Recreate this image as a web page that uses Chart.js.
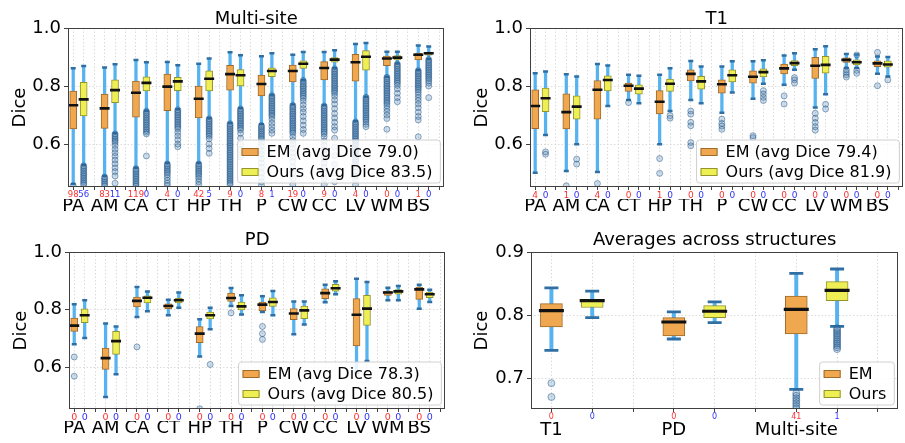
<!DOCTYPE html>
<html>
<head>
<meta charset="utf-8">
<script src="https://cdn.jsdelivr.net/npm/chart.js@4.4.0/dist/chart.umd.min.js"></script>
<style>
html, body { margin: 0; padding: 0; background: #fff; overflow: hidden; width: 905px; height: 443px; }
.panel { position: absolute; }
.panel canvas { display: block; }
</style>
</head>
<body>
<div class="panel" style="left:0px;top:0px"><canvas id="msChart" width="452" height="220"></canvas></div>
<div class="panel" style="left:460px;top:0px"><canvas id="t1Chart" width="451" height="220"></canvas></div>
<div class="panel" style="left:0px;top:222px"><canvas id="pdChart" width="453" height="220"></canvas></div>
<div class="panel" style="left:461px;top:222px"><canvas id="avgChart" width="453" height="220"></canvas></div>
<script>
'use strict';

// each box: [low whisker, q1, median, q3, high whisker]
const structures = ['PA', 'AM', 'CA', 'CT', 'HP', 'TH', 'P', 'CW', 'CC', 'LV', 'WM', 'BS'];

// ---- Multi-site
const msEM = [
    [0.462, 0.652, 0.734, 0.783, 0.861], [0.490, 0.654, 0.723, 0.772, 0.864],
    [0.518, 0.693, 0.777, 0.817, 0.890], [0.535, 0.715, 0.798, 0.841, 0.883],
    [0.535, 0.690, 0.756, 0.800, 0.877], [0.673, 0.786, 0.841, 0.871, 0.916],
    [0.668, 0.766, 0.807, 0.838, 0.903], [0.736, 0.814, 0.852, 0.872, 0.908],
    [0.734, 0.821, 0.862, 0.884, 0.917], [0.679, 0.817, 0.882, 0.909, 0.945],
    [0.832, 0.870, 0.895, 0.903, 0.918], [0.855, 0.890, 0.908, 0.913, 0.940]
];
const msOurs = [
    [0.528, 0.697, 0.754, 0.813, 0.869], [0.637, 0.743, 0.786, 0.821, 0.875],
    [0.715, 0.783, 0.811, 0.832, 0.882], [0.720, 0.784, 0.816, 0.830, 0.872],
    [0.689, 0.783, 0.825, 0.852, 0.895], [0.723, 0.800, 0.837, 0.857, 0.906],
    [0.769, 0.832, 0.852, 0.863, 0.913], [0.821, 0.861, 0.877, 0.887, 0.917],
    [0.861, 0.882, 0.891, 0.898, 0.923], [0.763, 0.855, 0.901, 0.922, 0.948],
    [0.878, 0.890, 0.898, 0.905, 0.918], [0.893, 0.906, 0.913, 0.917, 0.936]
];
const msEMOut = [
    [0.456],
    [0.486, 0.480, 0.474, 0.468, 0.462, 0.456],
    [0.515, 0.509, 0.503, 0.497, 0.491, 0.485, 0.479, 0.473, 0.467, 0.461, 0.455],
    [0.531, 0.525, 0.519, 0.513, 0.507, 0.501, 0.494, 0.485, 0.475, 0.465, 0.457],
    [0.531, 0.525, 0.519, 0.513, 0.507, 0.501, 0.495, 0.488, 0.480, 0.470, 0.460],
    [0.670, 0.664, 0.658, 0.652, 0.646, 0.640, 0.634, 0.628, 0.622, 0.616, 0.610, 0.604, 0.598, 0.592,
     0.586, 0.580, 0.574, 0.568, 0.562, 0.556, 0.550, 0.544, 0.538, 0.532, 0.526, 0.520, 0.514, 0.508,
     0.502, 0.496, 0.490, 0.484, 0.478, 0.472, 0.466, 0.460],
    [0.664, 0.658, 0.652, 0.646, 0.640, 0.634, 0.628, 0.622, 0.616, 0.605, 0.592, 0.578, 0.565, 0.550,
     0.535, 0.520, 0.500, 0.485, 0.470, 0.458],
    [0.733, 0.727, 0.721, 0.715, 0.709, 0.703, 0.697, 0.691, 0.685, 0.679, 0.673, 0.667, 0.661, 0.655,
     0.649, 0.643, 0.637, 0.625, 0.612, 0.600, 0.585, 0.570, 0.555, 0.540, 0.520, 0.500, 0.480, 0.460],
    [0.731, 0.725, 0.719, 0.713, 0.707, 0.701, 0.695, 0.689, 0.683, 0.677, 0.671, 0.665, 0.659, 0.653,
     0.647, 0.641, 0.635, 0.625, 0.610, 0.595, 0.580, 0.565, 0.550, 0.535, 0.520, 0.500, 0.480, 0.460],
    [0.676, 0.670, 0.664, 0.658, 0.652, 0.646, 0.640, 0.634, 0.628, 0.622, 0.616, 0.610, 0.604, 0.598,
     0.592, 0.586, 0.580, 0.574, 0.568, 0.562, 0.556, 0.550, 0.544, 0.538, 0.530, 0.520, 0.505, 0.490,
     0.475, 0.460],
    [0.830, 0.824, 0.818, 0.812, 0.806, 0.800, 0.794, 0.788, 0.782, 0.776, 0.770, 0.764, 0.758, 0.752,
     0.746, 0.740, 0.732, 0.722, 0.712, 0.700, 0.688, 0.651],
    [0.853, 0.847, 0.841, 0.835, 0.829, 0.823, 0.817, 0.811, 0.805, 0.799, 0.793, 0.787, 0.779, 0.770,
     0.760, 0.750, 0.738, 0.725, 0.710, 0.695, 0.683, 0.625]
];
const msOursOut = [
    [0.525, 0.519, 0.513, 0.507, 0.501, 0.495, 0.489, 0.483, 0.477, 0.471, 0.465, 0.459],
    [0.635, 0.629, 0.623, 0.617, 0.611, 0.605, 0.595, 0.582, 0.570, 0.558, 0.545, 0.532, 0.518, 0.505,
     0.490, 0.465],
    [0.713, 0.707, 0.701, 0.695, 0.689, 0.683, 0.677, 0.671, 0.665, 0.659, 0.653, 0.647, 0.641, 0.635, 0.559],
    [0.718, 0.712, 0.706, 0.700, 0.694, 0.688, 0.682, 0.676, 0.670, 0.664, 0.658, 0.652, 0.640, 0.628,
     0.615, 0.600, 0.591],
    [0.687, 0.681, 0.675, 0.669, 0.663, 0.657, 0.651, 0.645, 0.639, 0.633, 0.627, 0.618, 0.600, 0.585, 0.568],
    [0.721, 0.715, 0.709, 0.703, 0.697, 0.691, 0.685, 0.679, 0.673, 0.667, 0.661, 0.655, 0.649, 0.637,
     0.620, 0.600, 0.580, 0.556],
    [0.767, 0.761, 0.755, 0.749, 0.743, 0.737, 0.731, 0.725, 0.719, 0.713, 0.707, 0.701, 0.695, 0.685,
     0.672, 0.660, 0.648, 0.637],
    [0.819, 0.813, 0.807, 0.801, 0.795, 0.789, 0.783, 0.777, 0.771, 0.765, 0.758, 0.748, 0.735, 0.722,
     0.710, 0.695, 0.680, 0.665, 0.650, 0.637],
    [0.859, 0.853, 0.847, 0.841, 0.835, 0.829, 0.823, 0.817, 0.811, 0.805, 0.799, 0.793, 0.787, 0.781,
     0.775, 0.765, 0.752, 0.738, 0.722, 0.705, 0.690, 0.675, 0.660, 0.648, 0.620, 0.590, 0.560, 0.530,
     0.500, 0.470],
    [0.761, 0.755, 0.749, 0.743, 0.737, 0.731, 0.725, 0.719, 0.713, 0.707, 0.701, 0.695, 0.689, 0.683,
     0.676, 0.668, 0.660],
    [0.876, 0.870, 0.864, 0.858, 0.852, 0.846, 0.840, 0.834, 0.828, 0.822, 0.816, 0.810, 0.802, 0.790,
     0.775, 0.760, 0.746],
    [0.891, 0.885, 0.879, 0.873, 0.867, 0.861, 0.855, 0.849, 0.843, 0.837, 0.831, 0.825, 0.818, 0.810,
     0.800, 0.760]
];
const msEMHidden   = ['98', '83', '119', '4', '42', '9', '8', '19', '9', '4', '0', '1'];
const msOursHidden = ['56', '11', '0', '0', '5', '0', '1', '0', '0', '0', '0', '0'];

// ---- T1
const t1EM = [
    [0.501, 0.653, 0.731, 0.787, 0.844], [0.507, 0.652, 0.710, 0.773, 0.841],
    [0.504, 0.686, 0.787, 0.819, 0.876], [0.752, 0.781, 0.801, 0.810, 0.839],
    [0.599, 0.704, 0.746, 0.784, 0.839], [0.752, 0.818, 0.842, 0.856, 0.886],
    [0.708, 0.775, 0.806, 0.821, 0.867], [0.756, 0.810, 0.832, 0.852, 0.885],
    [0.804, 0.842, 0.861, 0.876, 0.905], [0.726, 0.826, 0.870, 0.899, 0.927],
    [0.862, 0.881, 0.890, 0.897, 0.910], [0.842, 0.867, 0.878, 0.887, 0.902]
];
const t1Ours = [
    [0.631, 0.712, 0.758, 0.793, 0.850], [0.599, 0.686, 0.729, 0.766, 0.833],
    [0.731, 0.783, 0.821, 0.835, 0.871], [0.741, 0.772, 0.791, 0.804, 0.835],
    [0.714, 0.781, 0.808, 0.824, 0.861], [0.741, 0.789, 0.816, 0.833, 0.867],
    [0.778, 0.814, 0.837, 0.856, 0.885], [0.808, 0.831, 0.848, 0.859, 0.889],
    [0.856, 0.870, 0.879, 0.888, 0.913], [0.772, 0.844, 0.873, 0.902, 0.937],
    [0.862, 0.873, 0.882, 0.890, 0.909], [0.833, 0.865, 0.874, 0.887, 0.900]
];
const t1EMOut = [
    [], [0.456], [0.464], [0.743], [0.550, 0.499],
    [0.714, 0.703, 0.675, 0.663, 0.605, 0.594], [0.686, 0.671, 0.662, 0.651], [0.629, 0.622],
    [0.766, 0.738], [0.706, 0.689, 0.674, 0.660, 0.648], [0.856, 0.847, 0.839, 0.831], [0.916, 0.801]
];
const t1OursOut = [
    [0.573, 0.565], [0.548, 0.531], [], [], [0.698, 0.689], [], [],
    [0.784, 0.773, 0.761, 0.750], [0.829, 0.821, 0.810], [0.737, 0.721], [0.907, 0.854, 0.844], [0.821]
];
const t1EMHidden   = ['4', '1', '4', '0', '1', '0', '0', '0', '0', '0', '0', '0'];
const t1OursHidden = ['0', '0', '0', '0', '0', '0', '0', '0', '0', '0', '0', '0'];

// ---- PD
const pdEM = [
    [0.679, 0.724, 0.744, 0.770, 0.818], [0.496, 0.592, 0.631, 0.666, 0.751],
    [0.774, 0.809, 0.830, 0.843, 0.878], [0.780, 0.803, 0.812, 0.820, 0.834],
    [0.637, 0.685, 0.716, 0.741, 0.766], [0.812, 0.828, 0.840, 0.857, 0.875],
    [0.791, 0.795, 0.817, 0.826, 0.846], [0.714, 0.765, 0.786, 0.803, 0.828],
    [0.825, 0.838, 0.857, 0.872, 0.886], [0.580, 0.673, 0.782, 0.838, 0.907],
    [0.832, 0.849, 0.859, 0.864, 0.876], [0.803, 0.835, 0.870, 0.878, 0.886]
];
const pdOurs = [
    [0.701, 0.754, 0.780, 0.802, 0.832], [0.575, 0.644, 0.690, 0.724, 0.741],
    [0.794, 0.823, 0.841, 0.848, 0.863], [0.806, 0.823, 0.832, 0.839, 0.859],
    [0.731, 0.767, 0.780, 0.791, 0.806], [0.783, 0.799, 0.811, 0.826, 0.850],
    [0.780, 0.811, 0.826, 0.841, 0.864], [0.748, 0.768, 0.797, 0.812, 0.828],
    [0.853, 0.864, 0.874, 0.888, 0.898], [0.621, 0.745, 0.803, 0.849, 0.896],
    [0.832, 0.853, 0.863, 0.869, 0.882], [0.826, 0.841, 0.853, 0.861, 0.869]
];
const pdEMOut = [[0.635, 0.568], [], [0.670], [], [0.455], [0.788], [0.741, 0.716, 0.696], [], [], [], [], []];
const pdOursOut = [[], [], [], [], [0.609], [], [], [], [], [], [], []];
const pdEMHidden   = ['0', '0', '0', '0', '0', '0', '0', '0', '0', '0', '0', '0'];
const pdOursHidden = ['0', '0', '0', '0', '0', '0', '0', '0', '0', '0', '0', '0'];

// ---- Averages across structures
const avgGroups = ['T1', 'PD', 'Multi-site'];
const avgEM   = [[0.744, 0.781, 0.807, 0.818, 0.843], [0.762, 0.767, 0.789, 0.796, 0.805], [0.682, 0.770, 0.809, 0.830, 0.866]];
const avgOurs = [[0.796, 0.812, 0.823, 0.825, 0.838], [0.788, 0.796, 0.806, 0.815, 0.821], [0.782, 0.823, 0.839, 0.853, 0.873]];
const avgEMOut   = [[0.692, 0.670], [], [0.676, 0.672, 0.668, 0.664, 0.660, 0.656, 0.652]];
const avgOursOut = [[], [], [0.779, 0.776, 0.773, 0.770, 0.767, 0.764, 0.761, 0.758, 0.755, 0.752, 0.749, 0.746]];
const avgEMHidden   = ['0', '0', '41'];
const avgOursHidden = ['0', '0', '1'];

// ---- styling
const FONT = "'DejaVu Sans', sans-serif";
Chart.defaults.font.family = FONT;
Chart.defaults.color = '#000';

const EM_FILL = '#efa850', EM_EDGE = '#9e6a2c';
const OURS_FILL = '#eeee55', OURS_EDGE = '#94942e';
const WHISKER = '#57b2f0', CAP = '#2f6fa3', MEDIAN = '#111111';
const FLIER_FILL = 'rgba(60, 120, 175, 0.26)', FLIER_EDGE = 'rgba(25, 75, 125, 0.45)';
const GRID = '#d2d2d2';
const RED = '#ff3030', BLUE = '#3030ff';

const SMALL = { box: 7, median: 10, medianW: 2.6, cap: 5, capW: 2.5, whisker: 2.6, flier: 3 };
const BIG   = { box: 22, median: 25, medianW: 3.2, cap: 14, capW: 2.8, whisker: 3.3, flier: 3.5 };

function boxSets(stats, outliers, pos, label, fill, edge, sz) {
    return [
        { type: 'bar', order: 50, grouped: false, clip: 0, barThickness: sz.whisker,
          data: stats.map((s, i) => ({ x: pos[i], y: [s[0], s[4]] })),
          backgroundColor: WHISKER, borderWidth: 0 },
        { type: 'bar', label: label, order: 40, grouped: false, barThickness: sz.box,
          data: stats.map((s, i) => ({ x: pos[i], y: [s[1], s[3]] })),
          backgroundColor: fill, borderColor: edge, borderWidth: 1, borderSkipped: false },
        { type: 'scatter', order: 30, clip: 0, pointStyle: 'line', pointRadius: sz.cap / 2,
          pointBorderWidth: sz.capW, pointBorderColor: CAP, pointHoverRadius: sz.cap / 2,
          data: stats.flatMap((s, i) => [{ x: pos[i], y: s[0] }, { x: pos[i], y: s[4] }]) },
        { type: 'scatter', order: 20, pointStyle: 'line', pointRadius: sz.median / 2,
          pointBorderWidth: sz.medianW, pointBorderColor: MEDIAN, pointHoverRadius: sz.median / 2,
          data: stats.map((s, i) => ({ x: pos[i], y: s[2] })) },
        { type: 'scatter', order: 10, clip: 0, pointStyle: 'circle', pointRadius: sz.flier,
          pointBackgroundColor: FLIER_FILL, pointBorderColor: FLIER_EDGE, pointBorderWidth: 1,
          data: outliers.flatMap((arr, i) => arr.map(v => ({ x: pos[i], y: v }))) }
    ];
}

// axes frame + matplotlib-like legend in the lower right corner
const frameLegend = {
    id: 'frameLegend',
    afterDraw(chart) {
        const { ctx, chartArea: a } = chart;
        ctx.save();
        ctx.strokeStyle = '#404040';
        ctx.lineWidth = 1;
        ctx.strokeRect(Math.round(a.left) + 0.5, Math.round(a.top) + 0.5,
                       Math.round(a.right - a.left) - 1, Math.round(a.bottom - a.top) - 1);

        const items = chart.data.datasets.filter(d => d.label);
        ctx.font = '16px ' + FONT;
        const tw = Math.max(...items.map(d => ctx.measureText(d.label).width));
        const w = 29 + tw + 8, h = 43;
        const x0 = a.right - 4 - w, y0 = a.bottom - 4 - h;
        ctx.beginPath();
        ctx.roundRect(x0, y0, w, h, 3);
        ctx.fillStyle = 'rgba(255,255,255,0.85)';
        ctx.fill();
        ctx.strokeStyle = '#d0d0d0';
        ctx.stroke();
        items.forEach((d, k) => {
            const cy = y0 + 12 + k * 20;
            ctx.fillStyle = d.backgroundColor;
            ctx.fillRect(x0 + 4, cy - 3.5, 17, 7);
            ctx.strokeStyle = d.borderColor;
            ctx.strokeRect(x0 + 4.5, cy - 3.5, 16, 7);
            ctx.fillStyle = '#000';
            ctx.textBaseline = 'middle';
            ctx.fillText(d.label, x0 + 29, cy + 1);
        });
        ctx.restore();
    }
};

function makePanel(id, p) {
    const n = p.em.length;
    const emPos = p.em.map((_, i) => 3 * i + 1);
    const oursPos = p.em.map((_, i) => 3 * i + 2);
    const allPos = Array.from({ length: 3 * n }, (_, i) => i + 1);
    const counts = new Map();
    emPos.forEach((v, i) => counts.set(v, { t: p.emHidden[i], c: RED }));
    oursPos.forEach((v, i) => counts.set(v, { t: p.oursHidden[i], c: BLUE }));
    const names = new Map(emPos.map((v, i) => [v, p.names[i]]));

    return new Chart(document.getElementById(id), {
        type: 'bar',
        data: { datasets: [
            ...boxSets(p.em, p.emOut, emPos, p.emLabel, EM_FILL, EM_EDGE, p.sz),
            ...boxSets(p.ours, p.oursOut, oursPos, p.oursLabel, OURS_FILL, OURS_EDGE, p.sz)
        ] },
        options: {
            animation: false,
            responsive: false,
            devicePixelRatio: 1,
            layout: { padding: { left: 0, right: 1, top: 0, bottom: 0 } },
            plugins: {
                legend: { display: false },
                tooltip: { enabled: false },
                title: { display: true, text: p.title, fullSize: false, color: '#000',
                         font: { size: 18, weight: 'normal', lineHeight: 1 },
                         padding: { top: p.titleTop, bottom: p.titleBottom } }
            },
            scales: {
                x: {
                    type: 'linear', position: 'bottom', weight: 1,
                    min: 0.5, max: 3 * n + 0.5, offset: false, bounds: 'data',
                    afterBuildTicks: s => { s.ticks = allPos.map(v => ({ value: v })); },
                    afterFit: s => { s.height = 12; },
                    grid: { color: GRID, lineWidth: 0.8, offset: false, tickLength: 3,
                            tickColor: '#404040', tickWidth: 1, tickBorderDash: [] },
                    border: { display: false, dash: [1.5, 2] },
                    ticks: { autoSkip: false, maxRotation: 0, minRotation: 0, padding: 1,
                             font: { size: p.countFont, lineHeight: 1 },
                             color: c => (counts.get(c.tick && c.tick.value) || { c: '#000' }).c,
                             callback: v => (counts.get(v) || { t: '' }).t }
                },
                x2: {
                    type: 'linear', position: 'bottom', weight: 2,
                    min: 0.5, max: 3 * n + 0.5, offset: false, bounds: 'data',
                    afterBuildTicks: s => { s.ticks = emPos.map(v => ({ value: v })); },
                    afterFit: s => { s.height = 21; },
                    grid: { display: false, drawTicks: false },
                    border: { display: false },
                    ticks: { autoSkip: false, maxRotation: 0, minRotation: 0, padding: p.namePad,
                             font: { size: 18, lineHeight: 1 }, color: '#000',
                             callback: v => names.get(v) || '' }
                },
                y: {
                    type: 'linear', min: p.yMin, max: p.yMax, beginAtZero: false, bounds: 'data',
                    afterBuildTicks: s => { s.ticks = p.yTicks.map(v => ({ value: v })); },
                    afterFit: s => { s.width = p.yWidth; },
                    grid: { color: GRID, lineWidth: 0.8, tickLength: 4, tickColor: '#404040',
                            tickWidth: 1, tickBorderDash: [] },
                    border: { display: false, dash: [1.5, 2] },
                    ticks: { padding: 3, font: { size: 18 }, color: '#000',
                             callback: v => v.toFixed(1) },
                    title: { display: true, text: 'Dice', color: '#000', font: { size: 18 },
                             padding: { top: p.yTitlePad, bottom: 0 } }
                }
            }
        },
        plugins: [frameLegend]
    });
}

makePanel('msChart', {
    title: 'Multi-site', names: structures, em: msEM, ours: msOurs, emOut: msEMOut, oursOut: msOursOut,
    emHidden: msEMHidden, oursHidden: msOursHidden,
    emLabel: 'EM (avg Dice 79.0)', oursLabel: 'Ours (avg Dice 83.5)',
    yMin: 0.452, yMax: 1.0, yTicks: [0.6, 0.8, 1.0], yWidth: 68, yTitlePad: 10,
    titleTop: 10, titleBottom: 0, countFont: 8.5, namePad: -2, sz: SMALL
});
makePanel('t1Chart', {
    title: 'T1', names: structures, em: t1EM, ours: t1Ours, emOut: t1EMOut, oursOut: t1OursOut,
    emHidden: t1EMHidden, oursHidden: t1OursHidden,
    emLabel: 'EM (avg Dice 79.4)', oursLabel: 'Ours (avg Dice 81.9)',
    yMin: 0.452, yMax: 1.0, yTicks: [0.6, 0.8, 1.0], yWidth: 70, yTitlePad: 12,
    titleTop: 10, titleBottom: 0, countFont: 9, namePad: -2, sz: SMALL
});
makePanel('pdChart', {
    title: 'PD', names: structures, em: pdEM, ours: pdOurs, emOut: pdEMOut, oursOut: pdOursOut,
    emHidden: pdEMHidden, oursHidden: pdOursHidden,
    emLabel: 'EM (avg Dice 78.3)', oursLabel: 'Ours (avg Dice 80.5)',
    yMin: 0.454, yMax: 1.0, yTicks: [0.6, 0.8, 1.0], yWidth: 69, yTitlePad: 11,
    titleTop: 9, titleBottom: 3, countFont: 9.5, namePad: -2, sz: SMALL
});
makePanel('avgChart', {
    title: 'Averages across structures', names: avgGroups, em: avgEM, ours: avgOurs,
    emOut: avgEMOut, oursOut: avgOursOut, emHidden: avgEMHidden, oursHidden: avgOursHidden,
    emLabel: 'EM', oursLabel: 'Ours',
    yMin: 0.651, yMax: 0.9, yTicks: [0.7, 0.8, 0.9], yWidth: 70, yTitlePad: 11,
    titleTop: 9, titleBottom: 3, countFont: 8, namePad: 0, sz: BIG
});
</script>
</body>
</html>
